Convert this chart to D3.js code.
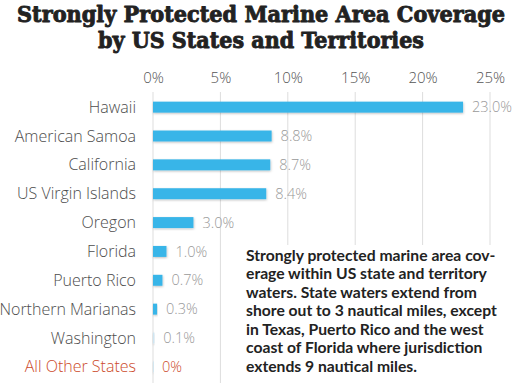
<!DOCTYPE html>
<html>
<head>
<meta charset="utf-8">
<script src="https://cdn.jsdelivr.net/npm/d3@7/dist/d3.min.js"></script>
<style>
  html, body { margin: 0; padding: 0; background: #fff; }
  svg { display: block; }
</style>
</head>
<body>
<div id="chart"></div>
<script>
// data
var states = ["Hawaii", "American Samoa", "California", "US Virgin Islands", "Oregon",
  "Florida", "Puerto Rico", "Northern Marianas", "Washington", "All Other States"];
var coverage = [23.0, 8.8, 8.7, 8.4, 3.0, 1.0, 0.7, 0.3, 0.1, 0];
var valueLabels = ["23.0%", "8.8%", "8.7%", "8.4%", "3.0%", "1.0%", "0.7%", "0.3%", "0.1%", "0%"];
var ticks = [0, 5, 10, 15, 20, 25];
var titleLines = ["Strongly Protected Marine Area Coverage", "by US States and Territories"];
var noteLines = [
  "Strongly protected marine area cov-",
  "erage within US state and territory",
  "waters. State waters extend from",
  "shore out to 3 nautical miles, except",
  "in Texas, Puerto Rico and the west",
  "coast of Florida where jurisdiction",
  "extends 9 nautical miles."
];

var width = 522, height = 383;
var blue = "#38b5e8", red = "#cc4a2a";

var svg = d3.select("#chart").append("svg")
  .attr("width", width)
  .attr("height", height);

var defs = svg.append("defs");
var f = defs.append("filter").attr("id", "shadow")
  .attr("x", "-20%").attr("y", "-50%").attr("width", "140%").attr("height", "200%");
f.append("feDropShadow").attr("dx", 0.5).attr("dy", 1).attr("stdDeviation", 0.8)
  .attr("flood-color", "#000").attr("flood-opacity", 0.25);

var x = d3.scaleLinear().domain([0, 25]).range([153, 490]);
var y = d3.scaleBand().domain(states).range([93, 381]).paddingInner(0.62).paddingOuter(0.3);

// title
svg.append("g").selectAll("text")
  .data(titleLines)
  .enter().append("text")
  .attr("x", 261)
  .attr("y", function(d, i) { return 21.5 + i * 26; })
  .attr("text-anchor", "middle")
  .attr("textLength", function(d, i) { return i == 0 ? 488 : 326; })
  .attr("lengthAdjust", "spacingAndGlyphs")
  .style("font-family", "'DejaVu Serif', serif")
  .style("font-weight", "bold")
  .style("font-size", "22px")
  .style("fill", "#222")
  .style("stroke", "#222")
  .style("stroke-width", 0.9)
  .style("stroke-linejoin", "round")
  .text(function(d) { return d; });

// grid lines
svg.append("g").selectAll("line")
  .data(ticks)
  .enter().append("line")
  .attr("x1", function(d) { return x(d); })
  .attr("x2", function(d) { return x(d); })
  .attr("y1", 92)
  .attr("y2", function(d) { return d <= 5 ? height : 245; })
  .style("stroke", "#ddd")
  .style("stroke-width", 1);

// top axis
var axis = d3.axisTop(x).tickValues(ticks).tickSize(0).tickPadding(0)
  .tickFormat(function(d) { return d + "%"; });
var ax = svg.append("g").attr("transform", "translate(0,83)").call(axis);
ax.select(".domain").remove();
ax.selectAll("text")
  .style("font-family", "'Open Sans', sans-serif")
  .style("font-weight", 300)
  .style("font-size", "15px")
  .style("fill", "#555");

// category labels
svg.append("g").selectAll("text")
  .data(states)
  .enter().append("text")
  .attr("x", 136)
  .attr("y", function(d) { return y(d) + y.bandwidth() / 2; })
  .attr("dy", "0.35em")
  .attr("text-anchor", "end")
  .style("font-family", "'Open Sans', sans-serif")
  .style("font-weight", 300)
  .style("font-size", "16px")
  .style("fill", function(d, i) { return i == states.length - 1 ? red : "#4d4d4d"; })
  .text(function(d) { return d; });

// bars
svg.append("g").selectAll("rect")
  .data(coverage)
  .enter().append("rect")
  .attr("x", x(0))
  .attr("y", function(d, i) { return y(states[i]); })
  .attr("width", function(d) { return Math.max(x(d) - x(0), 0.8); })
  .attr("height", y.bandwidth())
  .style("fill", function(d) { return d < 0.2 ? "#cfe6f2" : blue; })
  .attr("filter", "url(#shadow)");

// value labels
svg.append("g").selectAll("text")
  .data(coverage)
  .enter().append("text")
  .attr("x", function(d) { return x(d) + 9; })
  .attr("y", function(d, i) { return y(states[i]) + y.bandwidth() / 2; })
  .attr("dy", "0.35em")
  .style("font-family", "'Open Sans', sans-serif")
  .style("font-weight", 300)
  .style("font-size", "14.5px")
  .style("fill", function(d, i) { return i == coverage.length - 1 ? red : "#999"; })
  .text(function(d, i) { return valueLabels[i]; });

// note box
var note = svg.append("g");
note.append("rect")
  .attr("x", 240).attr("y", 245).attr("width", 282).attr("height", 138)
  .style("fill", "#fff");
note.selectAll("text")
  .data(noteLines)
  .enter().append("text")
  .attr("x", 246)
  .attr("y", function(d, i) { return 260.7 + i * 18.5; })
  .style("font-family", "Lato, sans-serif")
  .style("font-weight", "bold")
  .style("font-size", "15.7px")
  .style("fill", "#222")
  .text(function(d) { return d; });
</script>
</body>
</html>
